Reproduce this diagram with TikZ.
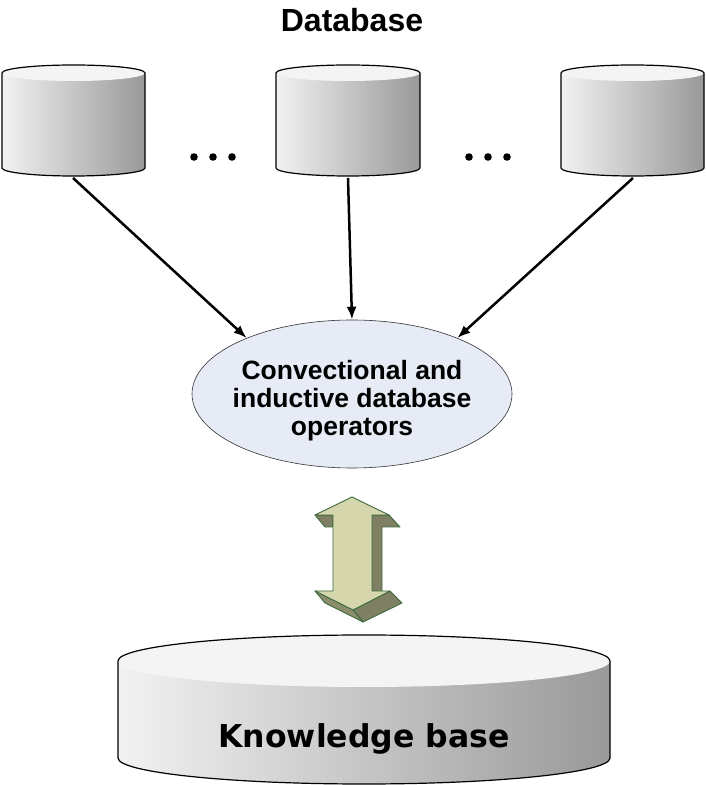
\documentclass[tikz,border=0pt]{standalone}
\usepackage{fontspec}
\setmainfont{Liberation Sans}
\newfontfamily\verd{DejaVu Sans}
\usetikzlibrary{shapes.geometric,arrows.meta}
\definecolor{cylL}{HTML}{F2F2F2}
\definecolor{cylR}{HTML}{999999}
\definecolor{cylTop}{HTML}{F4F4F4}
\definecolor{opFill}{HTML}{E6EBF5}
\definecolor{arrFront}{HTML}{D6D6AD}
\definecolor{arrSide}{HTML}{7F7F63}
\definecolor{arrSideB}{HTML}{8C8C6E}
\definecolor{arrLine}{HTML}{3D6B3D}
\newcommand\drawcyl[5]{%
  \pgfmathsetmacro\rx{(#2-#1)/2}%
  \pgfmathsetmacro\cx{(#2+#1)/2}%
  \shade[left color=cylL,right color=cylR] (#1,#3) -- (#1,#4)
     arc[start angle=180,end angle=360,x radius=\rx pt,y radius=#5 pt] -- (#2,#3) -- cycle;
  \fill[cylTop] (\cx,#3) ellipse[x radius=\rx pt,y radius=#5 pt];
  \draw[cylline] (#1,#3) -- (#1,#4)
     arc[start angle=180,end angle=360,x radius=\rx pt,y radius=#5 pt] -- (#2,#3)
     arc[start angle=0,end angle=180,x radius=\rx pt,y radius=#5 pt] -- cycle;
}
\begin{document}
\begin{tikzpicture}[x=1pt,y=1pt,
  cylline/.style={draw=black,line width=1.2pt},
  conn/.style={line width=2.5pt,-{Latex[length=13pt,width=10pt]}},
  opnode/.style={ellipse,draw=black!80,line width=0.6pt,fill=opFill,minimum width=320pt,minimum height=148pt,inner sep=0pt},
  optext/.style={font=\bfseries\fontsize{26.5}{28}\selectfont,align=center},
  dbtitle/.style={font=\bfseries\fontsize{32}{36}\selectfont,anchor=base},
  kbtext/.style={font=\verd\bfseries\fontsize{31.5}{36}\selectfont,anchor=base},
  dotstyle/.style={fill=black},
  front/.style={fill=arrFront,draw=arrLine,line width=0.9pt,line join=round},
  side/.style={fill=arrSide,draw=arrLine,line width=0.9pt,line join=round},
  sideb/.style={fill=arrSideB,draw=arrLine,line width=0.9pt,line join=round}]
\useasboundingbox (0,0) rectangle (705,785);
\fill[white] (0,0) rectangle (705,785);

% title
\node[dbtitle] (title) at (352,753) {Database};

% database cylinders
\drawcyl{2}{145}{712}{617}{8}
\drawcyl{276}{420}{712}{617}{8}
\drawcyl{561}{704}{712}{617}{8}
\coordinate (db1) at (73,607);
\coordinate (db2) at (348,607);
\coordinate (db3) at (633,607);

% dots
\foreach \x in {194,213,232,469,488,507} \fill[dotstyle] (\x,628) circle[radius=3.8pt];

% operators ellipse
\node[opnode] (op) at (352,391) {};
\node[optext] (optxt) at (352,384) {Convectional and\\inductive database\\operators};

\draw[conn] (db1) -- (op.152);
\draw[conn] (db2) -- (op.90);
\draw[conn] (db3) -- (op.28);

% 3D double arrow
\path[side] (372,270) -- (389,270) -- (400,258) -- (382,258) -- (382,194) -- (372,194) -- cycle;
\path[side] (315,270) -- (333,270) -- (333,258) -- (325,258) -- cycle;
\path[side] (390,194) -- (402,182) -- (363,163) -- (353,175) -- cycle;
\path[sideb] (315,194) -- (353,175) -- (363,163) -- (325,182) -- cycle;
\path[front] (352,288) -- (389,270) -- (372,270) -- (372,194) -- (390,194)
   -- (353,175) -- (315,194) -- (333,194) -- (333,270) -- (315,270) -- cycle;

% knowledge base
\drawcyl{118}{610}{124}{27}{26}
\node[kbtext] (kb) at (364,37) {Knowledge base};
\end{tikzpicture}
\end{document}
